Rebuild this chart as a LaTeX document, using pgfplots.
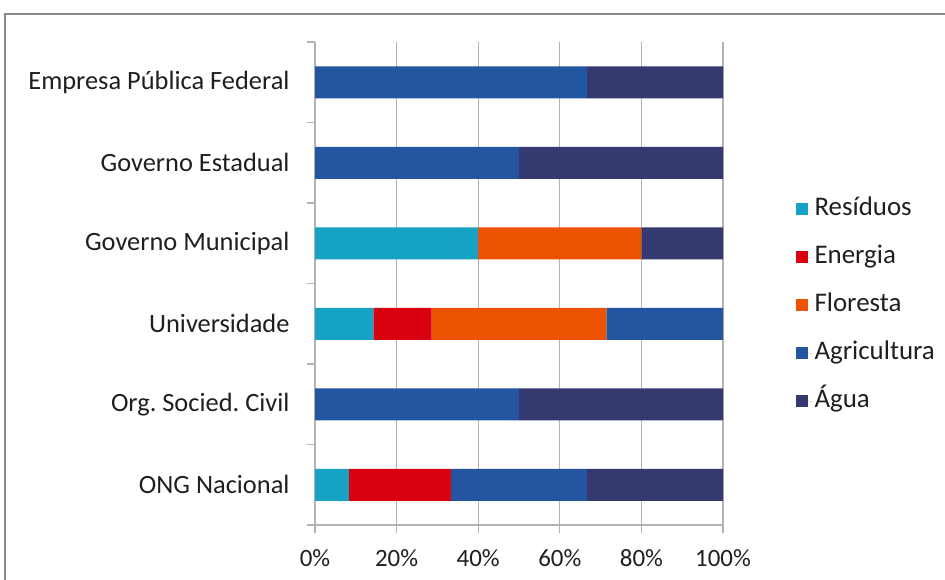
\documentclass[border=0pt]{standalone}
\usepackage{pgfplots}
\pgfplotsset{compat=1.18}
\usepackage{fontspec}
\setmainfont{Carlito}
\frenchspacing
\definecolor{frame}{HTML}{888888}
\definecolor{gridc}{HTML}{B3B3B3}
\definecolor{resC}{HTML}{16A2C4}
\definecolor{eneC}{HTML}{D90010}
\definecolor{floC}{HTML}{EC5200}
\definecolor{agrC}{HTML}{2455A0}
\definecolor{aguC}{HTML}{343970}
\begin{document}
\begin{tikzpicture}[x=1bp,y=1bp]
\useasboundingbox (0,0) rectangle (945,-580);
\draw[color=frame, line width=2bp] (5,-620) -- (5,-14) -- (980,-14);
\begin{axis}[
  at={(315bp,-525bp)}, anchor=south west,
  scale only axis, width=408bp, height=483bp,
  xbar stacked, bar width=32bp,
  xmin=0, xmax=100, ymin=-0.5, ymax=5.5,
  axis x line=bottom, axis y line=left,
  axis line style={-, color=gridc, line width=1.2bp},
  xtick={0,20,40,60,80,100},
  xticklabels={0\%,20\%,40\%,60\%,80\%,100\%},
  ytick={-0.5,0.5,1.5,2.5,3.5,4.5,5.5},
  yticklabels={},
  extra y ticks={0,1,2,3,4,5},
  extra y tick labels={ONG Nacional,Org. Socied. Civil,Universidade,Governo Municipal,Governo Estadual,Empresa Pública Federal},
  extra y tick style={major tick length=0bp, yticklabel style={xshift=-22bp, font=\fontsize{26.5}{31}\selectfont}},
  tick align=outside,
  tick style={color=gridc, line width=1.2bp},
  major tick length=8bp,
  xmajorgrids, grid style={color=gridc, line width=1.2bp},
  tick label style={font=\fontsize{25}{30}\selectfont, text=black!88},
  xticklabel style={yshift=-13bp},
  legend style={at={(rel axis cs:1.17,0.687)}, anchor=north west, draw=none, fill=none,
    font=\fontsize{27}{32}\selectfont, text=black!88,
    nodes={text height=18bp, text depth=6bp, inner sep=2bp},
    row sep=20bp},
  legend cell align=left,
  legend image code/.code={\path[#1] (0bp,-6bp) rectangle (12bp,6bp); \path (0bp,0bp) -- (17bp,0bp);},
]
\addplot[fill=resC, draw=none] coordinates {(8.33,0) (0,1) (14.29,2) (40,3) (0,4) (0,5)};
\addplot[fill=eneC, draw=none] coordinates {(25,0) (0,1) (14.29,2) (0,3) (0,4) (0,5)};
\addplot[fill=floC, draw=none] coordinates {(0,0) (0,1) (42.86,2) (40,3) (0,4) (0,5)};
\addplot[fill=agrC, draw=none] coordinates {(33.33,0) (50,1) (28.57,2) (0,3) (50,4) (66.67,5)};
\addplot[fill=aguC, draw=none] coordinates {(33.34,0) (50,1) (0,2) (20,3) (50,4) (33.33,5)};
\legend{Resíduos,Energia,Floresta,Agricultura,Água}
\end{axis}
\end{tikzpicture}
\end{document}
